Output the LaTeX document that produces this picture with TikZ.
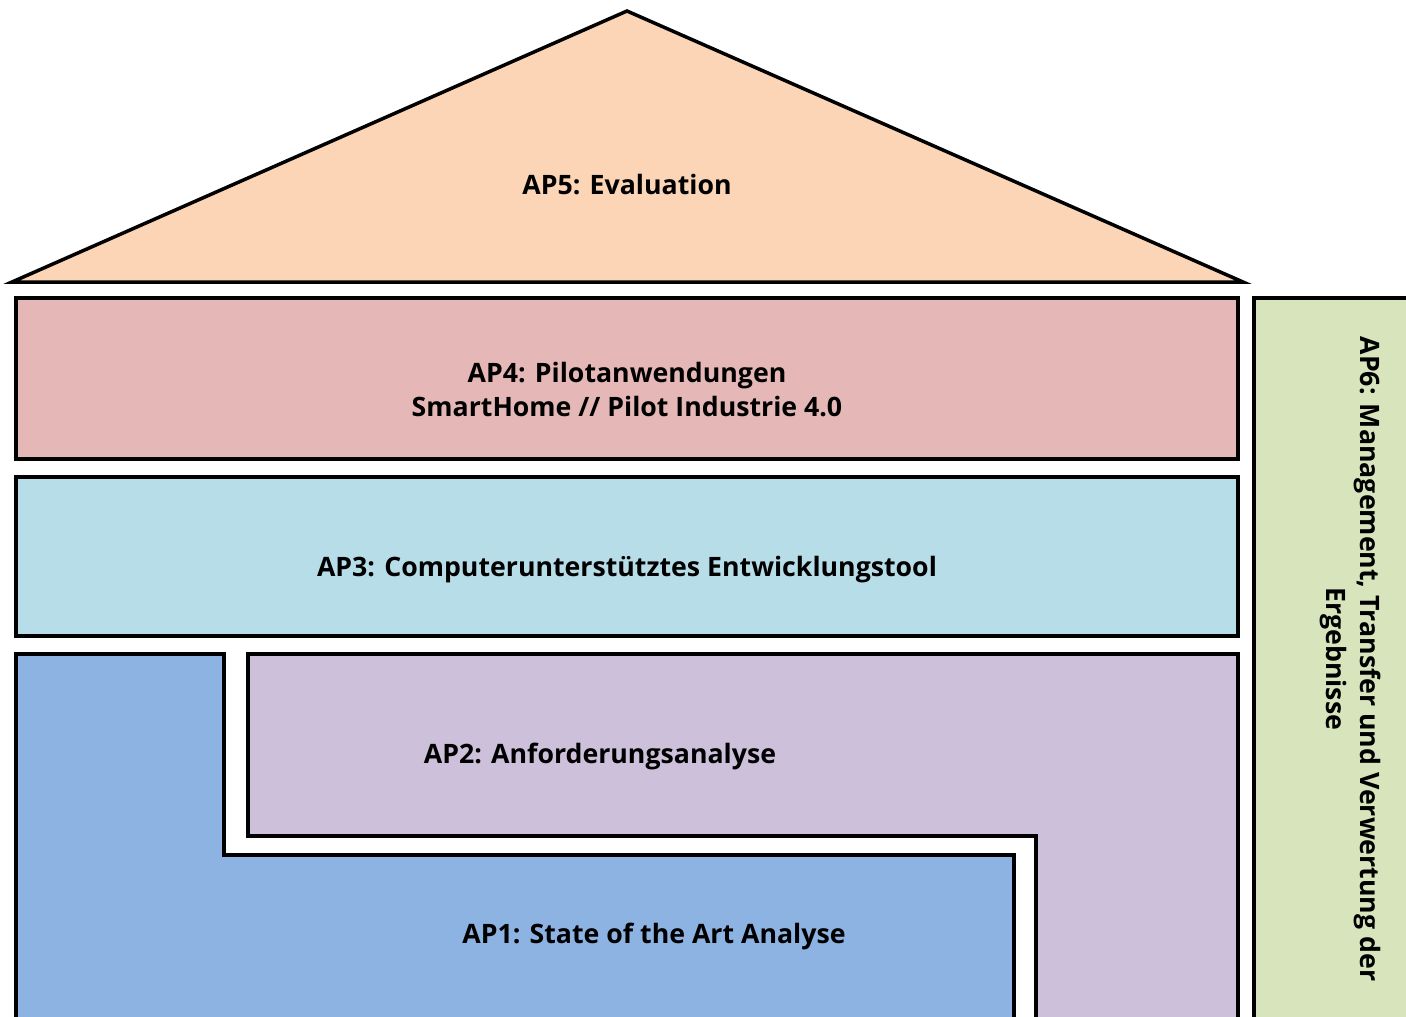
\documentclass[tikz,border=0pt]{standalone}
\usepackage{fontspec}
\setmainfont{Open Sans}
\begin{document}
\begin{tikzpicture}[x=1pt,y=-1pt,
  block/.style={draw=black,line width=3.5pt,line join=miter},
  label/.style={font=\bfseries\fontsize{26.7}{34}\selectfont,align=center,inner sep=0pt}]
\definecolor{apfive}{HTML}{FBD5B5}
\definecolor{apfour}{HTML}{E5B8B7}
\definecolor{apthree}{HTML}{B7DDE8}
\definecolor{aptwo}{HTML}{CCC0DA}
\definecolor{apone}{HTML}{8DB3E2}
\definecolor{apsix}{HTML}{D7E4BC}
\useasboundingbox (0,0) rectangle (1406,1017);
\begin{scope}
\clip (0,0) rectangle (1406,1017);
% roof
\filldraw[block,fill=apfive] (12,282) -- (627,11) -- (1243,282) -- cycle;
% storeys
\filldraw[block,fill=apfour] (16,298) rectangle (1238,459);
\filldraw[block,fill=apthree] (16,477) rectangle (1238,636);
% interlocking foundation blocks
\filldraw[block,fill=apone] (16,1040) -- (16,654) -- (224,654) -- (224,855) -- (1014,855) -- (1014,1040);
\filldraw[block,fill=aptwo] (248,654) -- (1238,654) -- (1238,1040) -- (1036,1040) -- (1036,836) -- (248,836) -- cycle;
% side pillar
\filldraw[block,fill=apsix] (1254,1040) -- (1254,298) -- (1420,298) -- (1420,1040);
\end{scope}
\node[label] (ap5) at (627,185) {AP5: Evaluation};
\node[label] (ap4) at (627,390) {AP4: Pilotanwendungen\\SmartHome // Pilot Industrie 4.0};
\node[label] (ap3) at (627,570) {AP3: Computerunterstütztes Entwicklungstool};
\node[label] (ap2) at (600,756) {AP2: Anforderungsanalyse};
\node[label] (ap1) at (654,936) {AP1: State of the Art Analyse};
\node[label,rotate=-90] (ap6) at (1350,659) {AP6: Management, Transfer und Verwertung der\\Ergebnisse};
\end{tikzpicture}
\end{document}
